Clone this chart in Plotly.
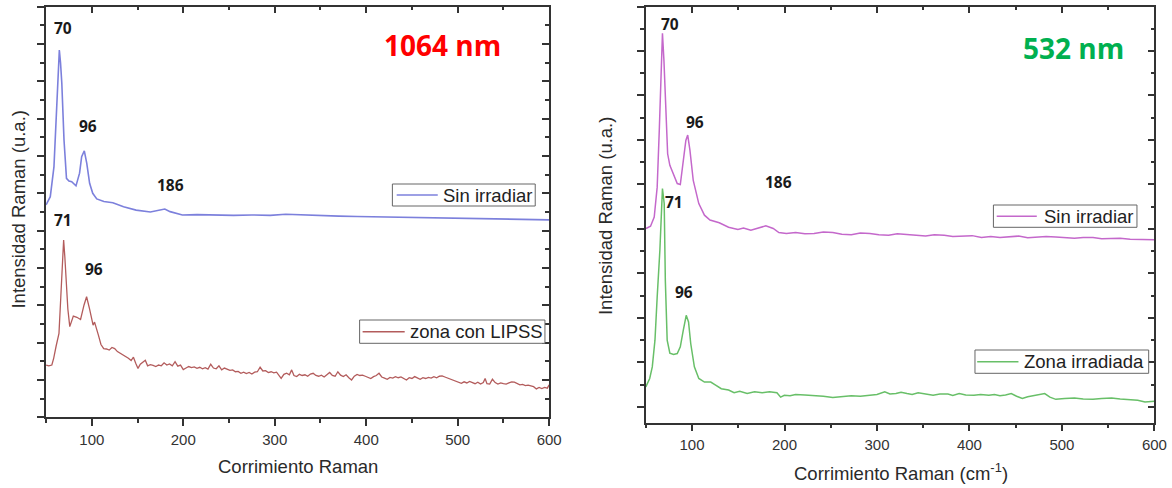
import plotly.graph_objects as go

# ---------------- data: 1064 nm panel ----------------
x_sin_1064 = [50, 54.6, 58.6, 61.3, 63, 64.5, 65.8, 67.2, 69.6, 72.3, 75, 78, 82.7, 86.6, 88.9,
              91.8, 94.5, 97.6, 101, 105.4, 113.2, 123, 134.7, 148.4, 164, 174, 179.8, 185.6,
              199, 215, 235, 255, 275, 295, 312, 330, 350, 370, 390, 410, 430, 450, 470, 490,
              510, 530, 550, 570, 590, 600]
y_sin_1064 = [5.69, 5.91, 6.71, 8.23, 9.3, 9.84, 9.5, 8.95, 7.43, 6.40, 6.33, 6.31, 6.20, 6.54, 6.98,
              7.14, 6.80, 6.27, 6.0, 5.85, 5.78, 5.75, 5.64, 5.55, 5.50, 5.55, 5.58, 5.51,
              5.42, 5.43, 5.42, 5.41, 5.42, 5.41, 5.44, 5.42, 5.40, 5.39, 5.38, 5.37, 5.37, 5.36, 5.35, 5.35,
              5.34, 5.33, 5.32, 5.31, 5.30, 5.29]

x_lipss = [50, 53, 56.3, 58.3, 61, 64.1, 66.1, 67.8, 69.2, 70.5, 71.9, 73.8, 75.9, 77.8, 79.8, 83.7,
           87.7, 91.5, 94.3, 97.4, 101.4, 103, 104.4, 107.2,
           110, 113, 116, 119, 122, 125, 128, 131, 134, 137, 140, 143, 145.5, 148, 150.5, 153, 156,
           158.5, 161, 164, 167, 170, 173, 176, 179, 182, 185, 188, 191, 194, 197, 200, 203, 206,
           209, 212, 215, 218, 221, 224, 227, 230, 233, 236, 239, 242, 245, 248, 251, 254, 257,
           260, 263, 266, 269, 272, 275, 278, 281, 284, 287, 290, 293, 296, 299, 302, 305, 307,
           310, 313, 316, 318.5, 321, 324, 327, 330, 333, 336, 339, 342, 345, 348, 351, 354, 357,
           360, 363, 366, 369, 372, 375, 378, 381, 384, 387, 390, 393, 396, 399, 402, 405, 408,
           411, 414, 417, 420, 423, 426, 429, 432, 435, 438, 441, 444, 447, 450, 453, 456, 459,
           462, 465, 468, 471, 474, 477, 480, 483, 486, 489, 492, 495, 498, 501, 504, 507, 510,
           513, 516, 519, 522, 525, 528, 530, 532, 535, 538, 541, 544, 547, 550, 553, 556, 559,
           562, 565, 568, 571, 574, 577, 580, 583, 586, 589, 592, 595, 598, 600]
y_lipss = [1.40, 1.38, 1.40, 1.58, 1.91, 2.25, 3.23, 4.20, 4.75, 4.30, 3.68, 2.90, 2.43, 2.55, 2.71, 2.68,
           2.62, 3.01, 3.23, 2.92, 2.47, 2.55, 2.41, 2.20,
           1.95, 1.84, 1.83, 1.80, 1.87, 1.84, 1.76, 1.72, 1.66, 1.64, 1.58, 1.52, 1.61, 1.45, 1.31, 1.42, 1.47,
           1.53, 1.38, 1.41, 1.39, 1.36, 1.40, 1.38, 1.46, 1.40, 1.43, 1.38, 1.49, 1.37, 1.40, 1.28, 1.32, 1.36,
           1.33, 1.35, 1.31, 1.34, 1.30, 1.33, 1.29, 1.42, 1.32, 1.30, 1.38, 1.27, 1.32, 1.30, 1.26, 1.27, 1.22,
           1.23, 1.18, 1.21, 1.17, 1.20, 1.16, 1.21, 1.22, 1.34, 1.24, 1.25, 1.20, 1.22, 1.19, 1.21, 1.10, 1.04,
           1.15, 1.18, 1.14, 1.27, 1.12, 1.09, 1.15, 1.12, 1.14, 1.10, 1.16, 1.18, 1.12, 1.10, 1.13, 1.08, 1.14,
           1.20, 1.12, 1.10, 1.22, 1.13, 1.09, 1.14, 1.06, 1.00, 1.10, 1.15, 1.12, 1.13, 1.10, 1.08, 1.04, 1.09,
           1.12, 1.18, 1.08, 1.05, 1.02, 1.07, 1.05, 1.09, 1.06, 1.08, 1.03, 1.00, 1.06, 1.04, 1.09, 1.05, 1.02,
           1.06, 1.04, 1.07, 1.05, 1.09, 1.06, 1.10, 1.11, 1.08, 1.05, 1.02, 1.00, 0.96, 0.94, 0.91, 0.95, 0.92,
           0.96, 0.93, 0.90, 0.94, 0.89, 0.93, 1.04, 0.90, 0.89, 1.02, 0.93, 0.89, 0.92, 0.90, 0.89, 0.92, 0.95,
           0.94, 0.90, 0.87, 0.88, 0.85, 0.86, 0.84, 0.82, 0.76, 0.80, 0.77, 0.80, 0.78, 0.87]

# ---------------- data: 532 nm panel ----------------
x_sin_532 = [50.2, 55.1, 59.1, 62.3, 64.7, 66.4, 68, 69.6, 71.1, 73.6, 76, 80, 84, 87.3, 90.5, 93.3,
             95.3, 97.7, 101.3, 107.3, 113.4, 119.4, 129.4, 139.5, 149.6, 155.6, 163.6, 171.7,
             179.8, 187.8, 193.9, 202, 212, 222, 232, 242, 252.2, 262, 272.2, 282, 292.3, 302, 312.5,
             322, 332.5, 342, 352.6, 362, 372.7, 382, 392.9, 403, 413, 423, 433, 443, 453.2, 463,
             473.3, 483, 493.4, 503, 513.5, 523, 533.6, 543, 553.7, 563, 573.8, 585, 600]
y_sin_532 = [4.01, 4.06, 4.27, 4.94, 6.29, 7.64, 8.40, 7.79, 6.89, 5.69, 5.43, 5.24, 5.02, 5.00, 5.54, 5.99,
             6.11, 5.77, 5.09, 4.57, 4.31, 4.20, 4.14, 4.04, 3.99, 4.02, 3.97, 4.02,
             4.07, 4.01, 3.92, 3.90, 3.92, 3.89, 3.90, 3.93, 3.92, 3.88, 3.87, 3.91, 3.90, 3.87, 3.86,
             3.89, 3.87, 3.85, 3.84, 3.87, 3.86, 3.83, 3.84, 3.85, 3.81, 3.83, 3.81, 3.82, 3.84, 3.80,
             3.81, 3.83, 3.82, 3.80, 3.79, 3.81, 3.81, 3.78, 3.78, 3.79, 3.77, 3.76, 3.76]

x_irr_532 = [50, 54.2, 57, 59.9, 62.3, 65.2, 68, 69.9, 71.1, 73.1, 76, 80, 84, 87.3, 90.5, 93.7, 96.2,
             98.6, 102.5, 107.3, 113.4, 120.2, 125.5, 131.6, 139.5, 145.5, 151.6, 159.6, 167.6,
             175.8, 183.8, 191.8, 195.8, 199.8, 206, 212, 222, 232, 242, 252.2, 262, 272.2, 282, 292.3,
             300, 308.4, 314, 320.5, 326, 332.5, 338, 344.5, 352, 360.7, 368, 376.7, 382, 388.9, 396,
             404.9, 412, 421, 427, 433, 439, 445.2, 451, 457.2, 463, 469.2, 475, 481.4, 487, 493.4,
             503, 513.5, 523, 533.6, 543, 553.7, 563, 573.8, 582, 589.8, 600]
y_irr_532 = [0.45, 0.64, 0.90, 1.50, 2.47, 3.52, 4.91, 4.57, 2.85, 1.50, 1.21, 1.18, 1.20, 1.35, 1.72, 2.06, 1.91,
             1.42, 0.90, 0.64, 0.56, 0.56, 0.49, 0.41, 0.38, 0.32, 0.35, 0.30, 0.34,
             0.32, 0.34, 0.32, 0.22, 0.26, 0.25, 0.28, 0.27, 0.26, 0.24, 0.21, 0.23, 0.25, 0.24, 0.26,
             0.28, 0.34, 0.29, 0.30, 0.33, 0.30, 0.28, 0.32, 0.30, 0.26, 0.29, 0.29, 0.26, 0.30, 0.27,
             0.26, 0.28, 0.26, 0.28, 0.25, 0.27, 0.30, 0.24, 0.19, 0.23, 0.25, 0.27, 0.30, 0.22, 0.17,
             0.19, 0.20, 0.18, 0.17, 0.19, 0.20, 0.18, 0.17, 0.15, 0.11, 0.13]

series_names = ["Sin irradiar", "zona con LIPSS", "Sin irradiar", "Zona irradiada"]

# tick values / labels
x_tick_vals = [100, 200, 300, 400, 500, 600]
x_tick_text = ["100", "200", "300", "400", "500", "600"]

# peak labels
peaks_1064_text = ["70", "96", "186", "71", "96"]
peaks_532_text = ["70", "96", "186", "71", "96"]

# ---------------- figure ----------------
# the page is laid out ~15px narrower than the window (scrollbar), so paper
# fractions are computed against the effective drawing width
W = 1157.0
H = 488.0

C_BLUE = "#7c80dc"
C_RED = "#b35c5c"
C_MAG = "#c468cb"
C_GREEN = "#68bf68"
colors = [C_BLUE, C_RED, C_MAG, C_GREEN]
AX = "#333333"
FONT = "Liberation Sans"

fig = go.Figure()
series = [(x_sin_1064, y_sin_1064, "x", "y", 1.6), (x_lipss, y_lipss, "x", "y", 1.3),
          (x_sin_532, y_sin_532, "x2", "y2", 1.5), (x_irr_532, y_irr_532, "x2", "y2", 1.5)]
for (xs, ys, xa, ya, lw), nm, col in zip(series, series_names, colors):
    fig.add_trace(go.Scatter(x=xs, y=ys, mode="lines", name=nm, line=dict(color=col, width=lw),
                             xaxis=xa, yaxis=ya, showlegend=False))
# invisible traces so the mirrored frame axes get drawn
for xa, ya in [("x3", "y"), ("x", "y3"), ("x4", "y2"), ("x2", "y4")]:
    fig.add_trace(go.Scatter(x=[None], y=[None], xaxis=xa, yaxis=ya, showlegend=False,
                             hoverinfo="skip"))

XR = [50, 600]
YR1 = [0, 11]
YR2 = [-0.35, 9]
DX1 = [46 / W, 548.2 / W]
DX2 = [644.7 / W, 1152.4 / W]
DY1 = [1 - 417.3 / H, 1 - 6.7 / H]
DY2 = [1 - 422.5 / H, 1 - 6.5 / H]

def xbase(domain, anchor):
    return dict(domain=domain, range=XR, anchor=anchor, showline=True, linecolor=AX, linewidth=1.5,
                ticks="outside", ticklen=7, tickwidth=1.5, tickcolor=AX,
                tickmode="array", tickvals=x_tick_vals, ticktext=x_tick_text,
                tickfont=dict(family=FONT, size=15, color=AX), ticklabelstandoff=1,
                minor=dict(dtick=50, tick0=0, ticks="outside", ticklen=4, tickwidth=1.5, tickcolor=AX),
                showgrid=False, zeroline=False)

def ybase(domain, rng, anchor):
    return dict(domain=domain, range=rng, anchor=anchor, showline=True, linecolor=AX, linewidth=1.5,
                ticks="outside", ticklen=7, tickwidth=1.5, tickcolor=AX, dtick=1, tick0=0,
                showticklabels=False,
                minor=dict(dtick=0.5, tick0=0, ticks="outside", ticklen=4, tickwidth=1.5, tickcolor=AX),
                showgrid=False, zeroline=False)

def xmirror(domain, over, anchor):
    return dict(domain=domain, range=XR, overlaying=over, anchor=anchor, side="top", showline=True,
                linecolor=AX, linewidth=1.5, ticks="inside", ticklen=7, tickwidth=1.5, tickcolor=AX,
                tickmode="array", tickvals=x_tick_vals, showticklabels=False,
                minor=dict(dtick=50, tick0=0, ticks="inside", ticklen=4, tickwidth=1.5, tickcolor=AX),
                showgrid=False, zeroline=False)

def ymirror(domain, rng, over, anchor):
    return dict(domain=domain, range=rng, overlaying=over, anchor=anchor, side="right", showline=True,
                linecolor=AX, linewidth=1.5, ticks="inside", ticklen=7, tickwidth=1.5, tickcolor=AX,
                dtick=1, tick0=0, showticklabels=False,
                minor=dict(dtick=0.5, tick0=0, ticks="inside", ticklen=4, tickwidth=1.5, tickcolor=AX),
                showgrid=False, zeroline=False)

fig.update_layout(
    width=1172, height=488, autosize=False, margin=dict(l=0, r=0, t=0, b=0),
    plot_bgcolor="white", paper_bgcolor="white",
    xaxis=xbase(DX1, "y"), yaxis=ybase(DY1, YR1, "x"),
    xaxis2=xbase(DX2, "y2"), yaxis2=ybase(DY2, YR2, "x2"),
    xaxis3=xmirror(DX1, "x", "y"), yaxis3=ymirror(DY1, YR1, "y", "x"),
    xaxis4=xmirror(DX2, "x2", "y2"), yaxis4=ymirror(DY2, YR2, "y2", "x2"),
    showlegend=False,
)

# ---- legend boxes (one per series, as in the original figure) ----
# (box left, box top, box right, box bottom, line x0, line x1, text x)
leg_geom = [(391.7, 184, 534.3, 206, 396, 437, 441),
            (359, 320, 544, 343.3, 362, 404, 408.5),
            (991.7, 205, 1135, 227.3, 995, 1035, 1041),
            (973.3, 350, 1146.7, 373.3, 975.5, 1016.7, 1021)]
for (bl, bt, br, bb, l0, l1, tx), nm, col in zip(leg_geom, series_names, colors):
    ym = 1 - (bt + bb) / 2 / H
    fig.add_shape(type="rect", xref="paper", yref="paper", x0=bl / W, x1=br / W,
                  y0=1 - bb / H, y1=1 - bt / H, line=dict(color="#666666", width=1),
                  fillcolor="white", layer="above")
    fig.add_shape(type="line", xref="paper", yref="paper", x0=l0 / W, x1=l1 / W, y0=ym, y1=ym,
                  line=dict(color=col, width=1.5), layer="above")
    fig.add_annotation(x=tx / W, y=ym, xref="paper", yref="paper", text=nm, showarrow=False,
                       xanchor="left", yanchor="middle", borderpad=0,
                       font=dict(family=FONT, size=18.5, color="#222222"))

# peak labels (data coordinates)
pk1_pos = [(68.4, 10.42), (95.5, 7.80), (185.8, 6.22), (68.1, 5.29), (102.1, 3.97)]
pk2_pos = [(75.8, 8.60), (102.8, 6.40), (193.0, 5.05), (80.2, 4.61), (91.8, 2.59)]
for t, (px, py) in zip(peaks_1064_text, pk1_pos):
    fig.add_annotation(x=px, y=py, xref="x", yref="y", text="<b>%s</b>" % t, showarrow=False,
                       xanchor="center", yanchor="middle",
                       font=dict(family="Open Sans", size=15.5, color="#1a1a1a"))
for t, (px, py) in zip(peaks_532_text, pk2_pos):
    fig.add_annotation(x=px, y=py, xref="x2", yref="y2", text="<b>%s</b>" % t, showarrow=False,
                       xanchor="center", yanchor="middle",
                       font=dict(family="Open Sans", size=15.5, color="#1a1a1a"))

fig.add_annotation(x=483.4, y=9.97, xref="x", yref="y", text="<b>1064 nm</b>", showarrow=False,
                   xanchor="center", yanchor="middle",
                   font=dict(family="Open Sans", size=28, color="#ff0000"))
fig.add_annotation(x=512.9, y=8.06, xref="x2", yref="y2", text="<b>532 nm</b>", showarrow=False,
                   xanchor="center", yanchor="middle",
                   font=dict(family="Open Sans", size=28, color="#00b050"))

# axis titles
TF = dict(family=FONT, size=18.5, color="#2a2a2a")
for (tx, ty, txt, ang) in [(17.5, 210, "Intensidad Raman (u.a.)", -90),
                           (604, 216, "Intensidad Raman (u.a.)", -90),
                           (297, 466.5, "Corrimiento Raman", 0),
                           (899, 472, "Corrimiento Raman (cm<sup>-1</sup>)", 0)]:
    fig.add_annotation(x=tx / W, y=1 - ty / H, xref="paper", yref="paper", textangle=ang,
                       text=txt, showarrow=False, xanchor="center", yanchor="middle", font=TF)

fig.write_html("out.html", config={"responsive": False})
